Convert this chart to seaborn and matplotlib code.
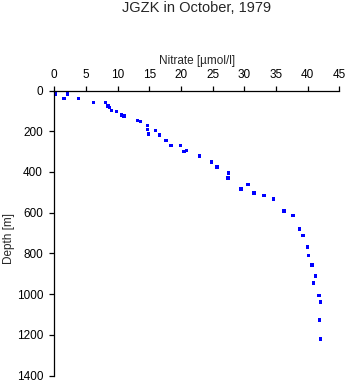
import matplotlib
matplotlib.use("Agg")
import matplotlib.pyplot as plt
import seaborn as sns
import pandas as pd

nitrate = [0.1, 0.2, 2.0, 2.05, 1.5, 3.8, 6.2, 8.05, 8.5, 8.7, 9.0, 9.85, 10.6, 11.0,
           13.1, 13.6, 14.7, 14.7, 14.85, 15.95, 16.6, 17.65, 18.4, 19.9, 20.5, 20.85,
           22.9, 24.8, 25.7, 27.5, 27.4, 29.5, 30.6, 31.5, 33.1, 34.6, 36.3, 37.7,
           38.7, 39.3, 39.95, 40.1, 40.7, 41.2, 40.9, 41.8, 42.0, 41.85, 42.0]
depth = [2, 19, 1, 17, 38, 40, 58, 60, 77, 84, 97, 102, 120, 125,
         146, 151, 172, 190, 214, 197, 219, 244, 269, 269, 298, 294,
         322, 350, 376, 404, 430, 483, 460, 504, 514, 533, 592, 615,
         680, 713, 769, 811, 857, 911, 945, 1006, 1038, 1126, 1220]
x_ticks = [0, 5, 10, 15, 20, 25, 30, 35, 40, 45]
y_ticks = [0, 200, 400, 600, 800, 1000, 1200, 1400]

df = pd.DataFrame({"Nitrate": nitrate, "Depth": depth})

sns.set_style("white")
plt.rcParams['font.family'] = ['Liberation Sans', 'DejaVu Sans']

fig = plt.figure(figsize=(3.48, 3.84), dpi=100)
ax = fig.add_axes([54.3/348, 1-375.7/384, (339.3-54.3)/348, (375.7-90.5)/384])
sns.scatterplot(data=df, x="Nitrate", y="Depth", ax=ax, marker="s", s=6,
                color=(0, 0, 1), linewidth=0, edgecolor="none")
ax.set_xlim(0, 45)
ax.set_ylim(1400, 0)
ax.set_xticks(x_ticks)
ax.set_yticks(y_ticks)
ax.xaxis.tick_top()
ax.xaxis.set_label_position("top")
for s in ["bottom", "right"]:
    ax.spines[s].set_visible(False)
for s in ["top", "left"]:
    ax.spines[s].set_color("black")
    ax.spines[s].set_linewidth(0.9)
ax.tick_params(axis="both", direction="out", length=3.6, width=0.9, color="black",
               labelsize=8.5, labelcolor="black")
ax.tick_params(axis="x", top=True, bottom=False, pad=3.5)
ax.tick_params(axis="y", left=True, pad=4.5)
ax.set_xlabel("Nitrate [\u00b5mol/l]", fontsize=8.5, labelpad=3.5)
ax.set_ylabel("Depth [m]", fontsize=8.5)
ax.yaxis.set_label_coords(-0.137, 0.48)
fig.text(197/348, 1-8.5/384, "JGZK in October, 1979", ha="center", va="center", fontsize=10.5)
fig.savefig("out.png", dpi=100)
